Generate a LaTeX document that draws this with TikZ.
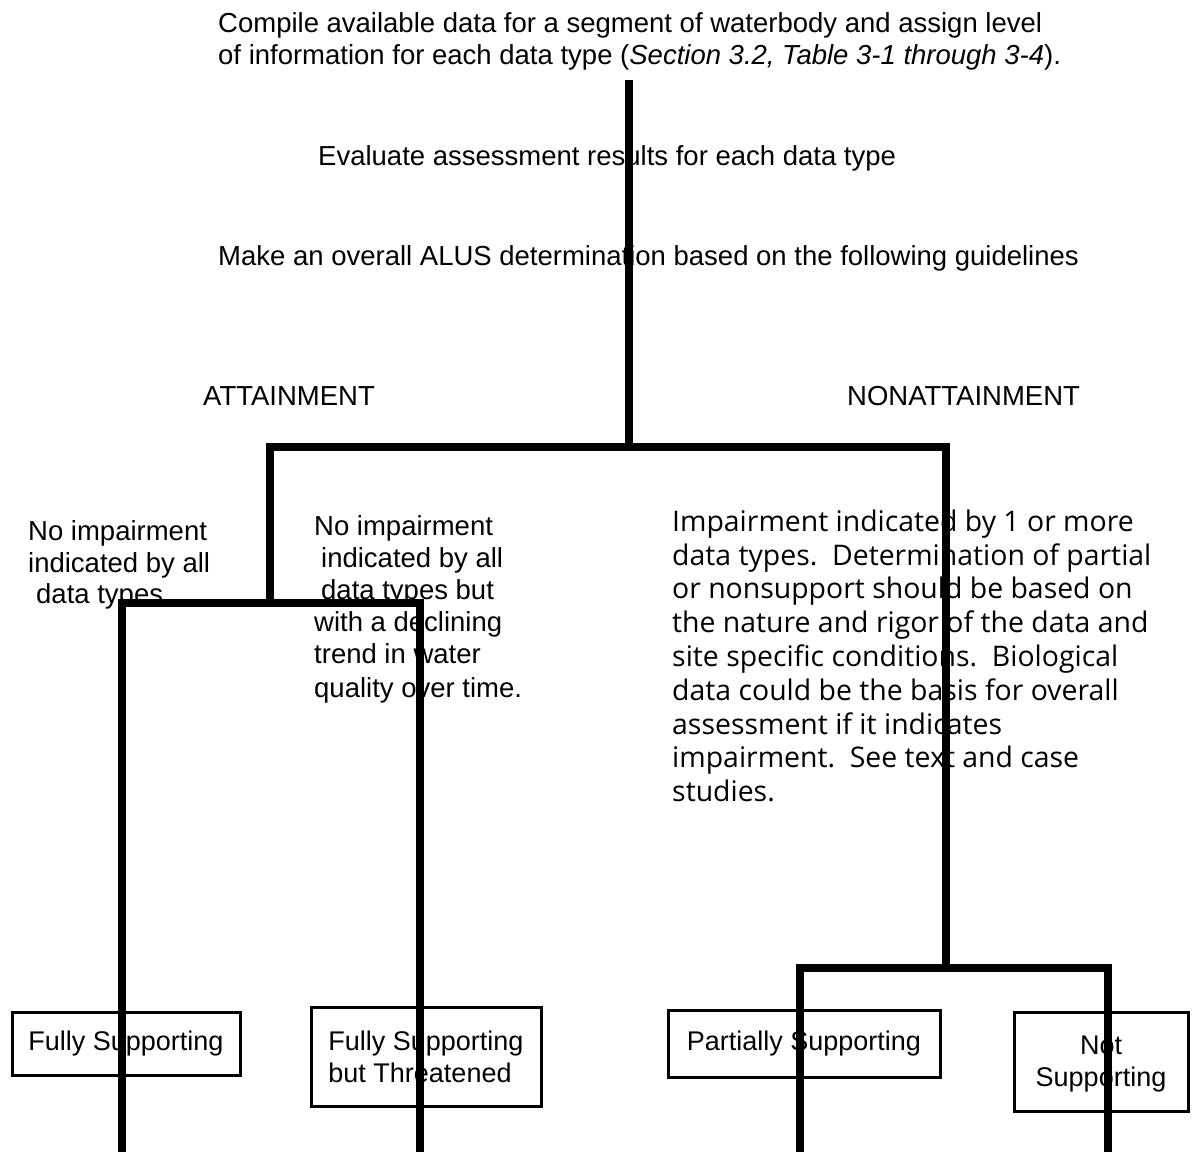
\documentclass[tikz,border=0pt]{standalone}
\usepackage{fontspec}
\setmainfont{Liberation Sans}
\newfontfamily\parafont{Open Sans}
\begin{document}
\begin{tikzpicture}[x=1pt,y=-1pt,
  txt/.style={inner sep=0pt, anchor=base west, font=\fontsize{27.5}{32}\selectfont},
  ptxt/.style={inner sep=0pt, anchor=north west, align=left, font=\parafont\fontsize{28.4}{33.8}\selectfont},
  outbox/.style={draw=black, line width=3pt, inner sep=0pt, font=\fontsize{27}{32}\selectfont},
  branch/.style={draw=black, line width=8pt, line cap=butt, line join=miter}]
\useasboundingbox (0,0) rectangle (1196,1154);
\fill[white] (0,0) rectangle (1196,1154);

% texts
\node[txt] (compile1) at (218,32) {Compile available data for a segment of waterbody and assign level};
\node[txt] (compile2) at (218,64) {of information for each data type (\textit{Section 3.2, Table 3-1 through 3-4}).};
\node[txt] (evaluate) at (318,165) {Evaluate assessment results for each data type};
\node[txt] (make) at (218,265) {Make an overall ALUS determination based on the following guidelines};
\node[txt] (att) at (203,405) {ATTAINMENT};
\node[txt] (nonatt) at (847,405) {NONATTAINMENT};

\node[txt] (l1) at (28,540) {No impairment};
\node[txt] (l2) at (28,572) {indicated by all};
\node[txt] (l3) at (36,603) {data types};

\node[txt] (m1) at (314,535) {No impairment};
\node[txt] (m2) at (321,567) {indicated by all};
\node[txt] (m3) at (321,599) {data types but};
\node[txt] (m4) at (314,631) {with a declining};
\node[txt] (m5) at (314,663) {trend in water};
\node[txt] (m6) at (314,697) {quality over time.};

\node[ptxt] (para) at (672,509.5) {Impairment indicated by 1 or more\\
data types.\ \ Determination of partial\\
or nonsupport should be based on\\
the nature and rigor of the data and\\
site specific conditions.\ \ Biological\\
data could be the basis for overall\\
assessment if it indicates\\
impairment.\ \ See text and case\\
studies.};

% outcome boxes
\node[outbox, minimum width=228, minimum height=63] (fs) at (126,1043.5) {Fully Supporting};
\node[outbox, minimum width=230, minimum height=99, align=left] (fst) at (426,1056.5) {Fully Supporting\\but Threatened};
\node[outbox, minimum width=272, minimum height=67] (ps) at (804,1043.5) {Partially Supporting};
\node[outbox, minimum width=174, minimum height=99, align=center] (ns) at (1101,1061.5) {\rule{0pt}{24pt}Not\\Supporting};

% junction coordinates
\coordinate (top) at (629,80);
\coordinate (j1) at (629,447);
\coordinate (aL) at (270,447);
\coordinate (aR) at (946,447);
\coordinate (aLb) at (270,603);
\coordinate (aRb) at (946,968);
\coordinate (bL) at (122,603);
\coordinate (bR) at (420,603);
\coordinate (bLe) at (122,1152);
\coordinate (bRe) at (420,1152);
\coordinate (cL) at (800,968);
\coordinate (cR) at (1108,968);
\coordinate (cLe) at (800,1152);
\coordinate (cRe) at (1108,1152);

% branches
\draw[branch] (top) -- (j1);
\draw[branch] (aLb) -- (aL) -- (aR) -- (aRb);
\draw[branch] (bLe) -- (bL) -- (bR) -- (bRe);
\draw[branch] (cLe) -- (cL) -- (cR) -- (cRe);
\end{tikzpicture}
\end{document}
